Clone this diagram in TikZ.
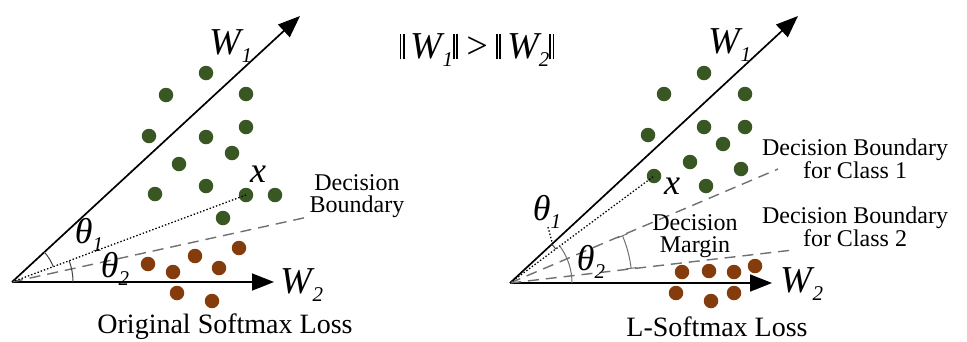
\documentclass[tikz,border=0pt]{standalone}
\usepackage{fontspec}
\setmainfont{Liberation Serif}
\usetikzlibrary{arrows.meta,calc}
\definecolor{dgreen}{RGB}{56,87,35}
\definecolor{dbrown}{RGB}{132,60,12}
\definecolor{bgray}{RGB}{112,112,112}
\newcommand{\lowsub}[1]{\raisebox{-0.22em}{\fontsize{21}{21}\selectfont #1}}
\newcommand{\dbar}{\rule[-1pt]{1.6pt}{25pt}\kern1.6pt\rule[-1pt]{1.6pt}{25pt}}
\begin{document}
\begin{tikzpicture}[x=1pt,y=-1pt,
  gdot/.style={circle,fill=dgreen,inner sep=0pt,minimum size=14.5pt},
  bdot/.style={circle,fill=dbrown,inner sep=0pt,minimum size=14.5pt},
  axis/.style={line width=1.7pt,-{Triangle[length=22pt,width=17pt]}},
  bound/.style={bgray,line width=1.4pt,dash pattern=on 11pt off 7pt},
  dotl/.style={line width=1.3pt,dash pattern=on 1.4pt off 2pt},
  angarc/.style={line width=1pt,black!75},
  wlab/.style={inner sep=0pt,font=\fontsize{38}{38}\selectfont\itshape},
  glab/.style={inner sep=0pt,font=\fontsize{36}{36}\selectfont\itshape},
  dlab/.style={inner sep=0pt,align=center,font=\fontsize{24}{22}\selectfont},
  captext/.style={inner sep=0pt,font=\fontsize{28}{28}\selectfont}
]
\useasboundingbox (0,0) rectangle (967,341);

% ---------------- left panel ----------------
\coordinate (O1) at (12,282);
\coordinate (A1) at (300,16);
\coordinate (B1) at (274,282);
\coordinate (D1) at (308,217);

\foreach \p [count=\i] in {(206,73),(166,95),(246,94),(149,136),(206,137),(246,127),(232,153),(179,164),(206,186),(155,194),(246,195),(275,195),(223,218)}
  \node[gdot] (gL\i) at \p {};
\foreach \p [count=\i] in {(239,248),(195,256),(148,264),(173,272),(219,268),(177,293),(212,301)}
  \node[bdot] (bL\i) at \p {};

\draw[axis] (O1) -- (A1);
\draw[axis] (O1) -- (B1);
\draw[bound] (O1) -- (D1);
\draw[dotl] (O1) -- (gL11.center);
\draw[angarc] ($(O1)+(-42.7:44)$) arc[start angle=-42.7,end angle=-20.4,radius=44];
\draw[angarc] ($(O1)+(-20.4:61)$) arc[start angle=-20.4,end angle=0,radius=61];

\node[wlab] (w1L) at (231,46) {W\lowsub{1}};
\node[wlab] (w2L) at (302,285) {W\lowsub{2}};
\node[glab] (xL) at (258,174) {x};
\node[glab] (t1L) at (89,235) {θ\lowsub{1}};
\node[glab] (t2L) at (115,269) {θ\lowsub{2}};
\node[dlab] (dbL) at (357,196) {Decision\\Boundary};
\node[captext] (capL) at (225,327) {Original Softmax Loss};

% ---------------- title ----------------
\node[inner sep=0pt,font=\fontsize{38}{38}\selectfont\itshape] (title) at (477,50)
  {\dbar\,W\lowsub{1}\dbar\,>\,\dbar\,W\lowsub{2}\dbar};

% ---------------- right panel ----------------
\coordinate (O2) at (510,283);
\coordinate (A2) at (798,16);
\coordinate (B2) at (772,283);
\coordinate (D2a) at (778,169);
\coordinate (D2b) at (793,250);
\coordinate (T1a) at (548,227);
\coordinate (T1b) at (552,242);

\foreach \p [count=\i] in {(704,73),(664,94),(745,94),(648,135),(704,127),(745,127),(723,144),(690,162),(741,169),(654,176),(706,186)}
  \node[gdot] (gR\i) at \p {};
\foreach \p [count=\i] in {(755,266),(682,272),(709,271),(734,272),(676,293),(711,301),(734,293)}
  \node[bdot] (bR\i) at \p {};

\draw[axis] (O2) -- (A2);
\draw[axis] (O2) -- (B2);
\draw[bound] (O2) -- (D2a);
\draw[bound] (O2) -- (D2b);
\draw[dotl] (O2) -- (gR10.center);
\draw[dotl] (T1a) -- (T1b);
\draw[angarc] ($(O2)+(-42.8:57)$) arc[start angle=-42.8,end angle=-36.6,radius=57];
\draw[angarc,bgray] ($(O2)+(-36.6:62)$) arc[start angle=-36.6,end angle=0,radius=62];
\draw[angarc,bgray,{Bar[width=11pt]}-{Bar[width=11pt]}] ($(O2)+(-23:122)$) arc[start angle=-23,end angle=-6.7,radius=122];

\node[wlab] (w1R) at (730,45) {W\lowsub{1}};
\node[wlab] (w2R) at (802,284) {W\lowsub{2}};
\node[glab] (xR) at (672,186) {x};
\node[glab] (t1R) at (547,212) {θ\lowsub{1}};
\node[glab] (t2R) at (591,262) {θ\lowsub{2}};
\node[dlab] (dm) at (695,236) {Decision\\Margin};
\node[dlab] (db1) at (855,159) {Decision Boundary\\for Class 1};
\node[dlab] (db2) at (855,227) {Decision Boundary\\for Class 2};
\node[captext] (capR) at (717,327) {L-Softmax Loss};
\end{tikzpicture}
\end{document}
